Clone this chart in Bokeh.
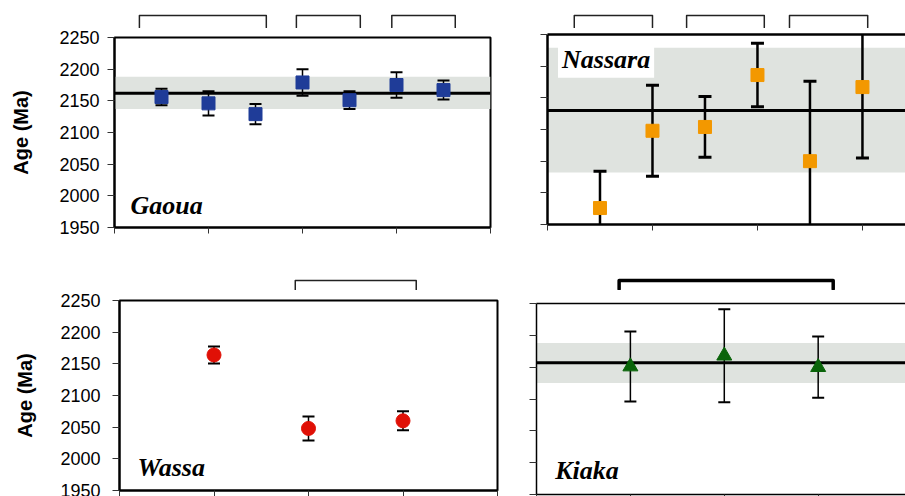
from bokeh.plotting import figure
from bokeh.models import (Range1d, FixedTicker, LinearAxis, Span, BoxAnnotation, Label,
                          ColumnDataSource, CustomJSTickFormatter)
from bokeh.layouts import column, row
from bokeh.embed import file_html
from bokeh.resources import INLINE

# ---------------- data ----------------
age_ticks = [1950, 2000, 2050, 2100, 2150, 2200, 2250]

gaoua_pos = [1, 2, 3, 4, 5, 6, 7]
gaoua_age = [2156, 2146, 2129, 2179, 2151, 2175, 2167]
gaoua_err = [13, 19, 16, 21, 14, 20, 15]
gaoua_mean = 2162
gaoua_band = [2137, 2188]
gaoua_groups = [[0.53, 3.23], [3.87, 5.23], [5.9, 7.25]]

nassara_pos = [1, 2, 3, 4, 5, 6]
nassara_age = [1976, 2098, 2104, 2186, 2050, 2167]
nassara_err = [58, 72, 48, 50, 126, 112]
nassara_mean = 2130
nassara_band = [2032, 2229]
nassara_groups = [[0.51, 2.0], [2.65, 4.13], [4.61, 6.1]]

wassa_pos = [1, 2, 3]
wassa_age = [2164, 2048, 2060]
wassa_err = [13.5, 19, 15]
wassa_groups = [[1.86, 3.14]]

kiaka_pos = [1, 2, 3]
kiaka_age = [2151, 2168, 2150]
kiaka_err = [55, 73, 48]
kiaka_mean = 2157
kiaka_band = [2125, 2188]
kiaka_groups = [[0.88, 3.16]]

BAND = "#dfe3df"
TICK = "#333333"
SANS = "Liberation Sans"
SERIF = "Liberation Serif"


def blank_labels(ax):
    ax.formatter = CustomJSTickFormatter(code="return ''")
    ax.major_label_text_font_size = "1px"
    ax.major_label_standoff = 0


def main_panel(width, height, ml, mr, mt, mb, x_end, xticks, labelled, frame_w, full_outline, xtick_out=6):
    p = figure(width=width, height=height, x_range=Range1d(0, x_end), y_range=Range1d(1950, 2250),
               toolbar_location=None, output_backend="svg",
               min_border_left=ml, min_border_right=mr, min_border_top=mt, min_border_bottom=mb)
    p.grid.visible = False
    p.background_fill_color = "white"
    p.border_fill_color = "white"
    xa = p.xaxis[0]
    xa.ticker = FixedTicker(ticks=xticks)
    blank_labels(xa)
    xa.major_tick_in = 0
    xa.major_tick_out = xtick_out
    xa.major_tick_line_color = TICK
    xa.minor_tick_line_color = None
    xa.axis_line_width = frame_w
    xa.axis_line_color = "black"
    ya = p.yaxis[0]
    ya.ticker = FixedTicker(ticks=age_ticks)
    ya.major_tick_in = 0
    ya.major_tick_out = 7
    ya.major_tick_line_color = TICK
    ya.minor_tick_line_color = None
    ya.axis_line_width = frame_w
    ya.axis_line_color = "black"
    if labelled:
        ya.major_label_text_font = SANS
        ya.major_label_text_font_size = "18px"
        ya.major_label_text_color = "black"
        ya.axis_label = "Age (Ma)"
        ya.axis_label_text_font = SANS
        ya.axis_label_text_font_style = "bold"
        ya.axis_label_text_font_size = "20px"
        ya.axis_label_text_color = "black"
    else:
        blank_labels(ya)
    if full_outline:
        p.outline_line_color = "black"
        p.outline_line_width = frame_w
        p.outline_line_alpha = 1
    else:
        p.outline_line_color = None
        top = LinearAxis(ticker=FixedTicker(ticks=[]), major_tick_line_color=None,
                         minor_tick_line_color=None,
                         axis_line_width=frame_w, axis_line_color="black")
        blank_labels(top)
        p.add_layout(top, "above")
    return p


def add_band(p, mean, band):
    p.add_layout(BoxAnnotation(bottom=band[0], top=band[1], fill_color=BAND, fill_alpha=1,
                               line_color=None, level="underlay"))
    p.add_layout(Span(location=mean, dimension="width", line_color="black", line_width=3,
                      level="underlay"))


def add_points(p, pos, age, err, marker, color, size, stem_w, cap_w, cap_size):
    src = ColumnDataSource(dict(x=pos, y=age,
                                lo=[a - e for a, e in zip(age, err)],
                                hi=[a + e for a, e in zip(age, err)]))
    p.segment(x0="x", y0="lo", x1="x", y1="hi", source=src, line_color="black", line_width=stem_w)
    p.scatter(x="x", y="hi", source=src, marker="dash", size=cap_size, line_color="black", line_width=cap_w)
    p.scatter(x="x", y="lo", source=src, marker="dash", size=cap_size, line_color="black", line_width=cap_w)
    p.scatter(x="x", y="y", source=src, marker=marker, size=size, fill_color=color, line_color=color)


def add_name(p, text, x, y, bg=False):
    kw = dict(x=x, y=y, text=text, text_font=SERIF, text_font_style="bold italic",
              text_font_size="26px", text_color="black", text_baseline="middle", text_align="left")
    if bg:
        kw.update(background_fill_color="white", background_fill_alpha=1, padding=4)
    p.add_layout(Label(**kw))


def bracket_fig(p, width, height, ml, mr, groups, ytop, ybot, lw, color):
    b = figure(width=width, height=height, x_range=p.x_range, y_range=Range1d(0, height),
               x_axis_type=None, y_axis_type=None, toolbar_location=None, output_backend="svg",
               min_border_left=ml, min_border_right=mr, min_border_top=0, min_border_bottom=0)
    b.grid.visible = False
    b.outline_line_color = None
    xs = [[g[0], g[0], g[1], g[1]] for g in groups]
    ys = [[ybot, ytop, ytop, ybot] for _ in groups]
    b.multi_line(xs=xs, ys=ys, line_width=lw, line_color=color, line_join="round", line_cap="round")
    return b


# ---------------- Gaoua (top left) ----------------
g = main_panel(500, 222, 114, 10, 9, 23, 8, [0, 2, 4, 6, 8], True, 2, True)
g.yaxis[0].major_label_standoff = 8
g.yaxis[0].axis_label_standoff = 24
add_band(g, gaoua_mean, gaoua_band)
add_points(g, gaoua_pos, gaoua_age, gaoua_err, "square", "#1f3c98", 13, 1.5, 2, 12)
add_name(g, "Gaoua", 0.34, 1985)
gb = bracket_fig(g, 500, 28, 114, 10, gaoua_groups, 13, 1, 1.5, "#222222")

# ---------------- Nassara (top right) ----------------
n = main_panel(405, 222, 47, 0, 6, 26, 6.82, [0, 2, 4, 6], False, 2.5, False)
add_band(n, nassara_mean, nassara_band)
add_points(n, nassara_pos, nassara_age, nassara_err, "square", "#f39800", 13, 2.5, 3, 13)
add_name(n, "Nassara", 0.2, 2211, bg=True)
nb = bracket_fig(n, 405, 28, 47, 0, nassara_groups, 13, 1, 1.5, "#222222")

# ---------------- Wassa (bottom left) ----------------
w = main_panel(500, 206, 119, 3, 10, 6, 4, [0, 1, 2, 3, 4], True, 2, True)
w.yaxis[0].major_label_standoff = 12
w.yaxis[0].axis_label_standoff = 21
add_points(w, wassa_pos, wassa_age, wassa_err, "circle", "#e01006", 14, 1.5, 2, 12)
add_name(w, "Wassa", 0.19, 1986)
wb = bracket_fig(w, 500, 40, 119, 3, wassa_groups, 10, 0.5, 1.5, "#222222")

# ---------------- Kiaka (bottom right) ----------------
k = main_panel(405, 206, 36, 0, 13, 2, 3.93, [0, 1, 2, 3], False, 1.5, False, xtick_out=2)
add_band(k, kiaka_mean, kiaka_band)
add_points(k, kiaka_pos, kiaka_age, kiaka_err, "triangle", "#0a640a", 15, 1.5, 2, 12)
add_name(k, "Kiaka", 0.2, 1988)
kb = bracket_fig(k, 405, 40, 36, 0, kiaka_groups, 10, 1.5, 3.5, "black")

layout = column(row(column(gb, g), column(nb, n)), row(column(wb, w), column(kb, k)))

open("out.html", "w").write(file_html(layout, INLINE))
